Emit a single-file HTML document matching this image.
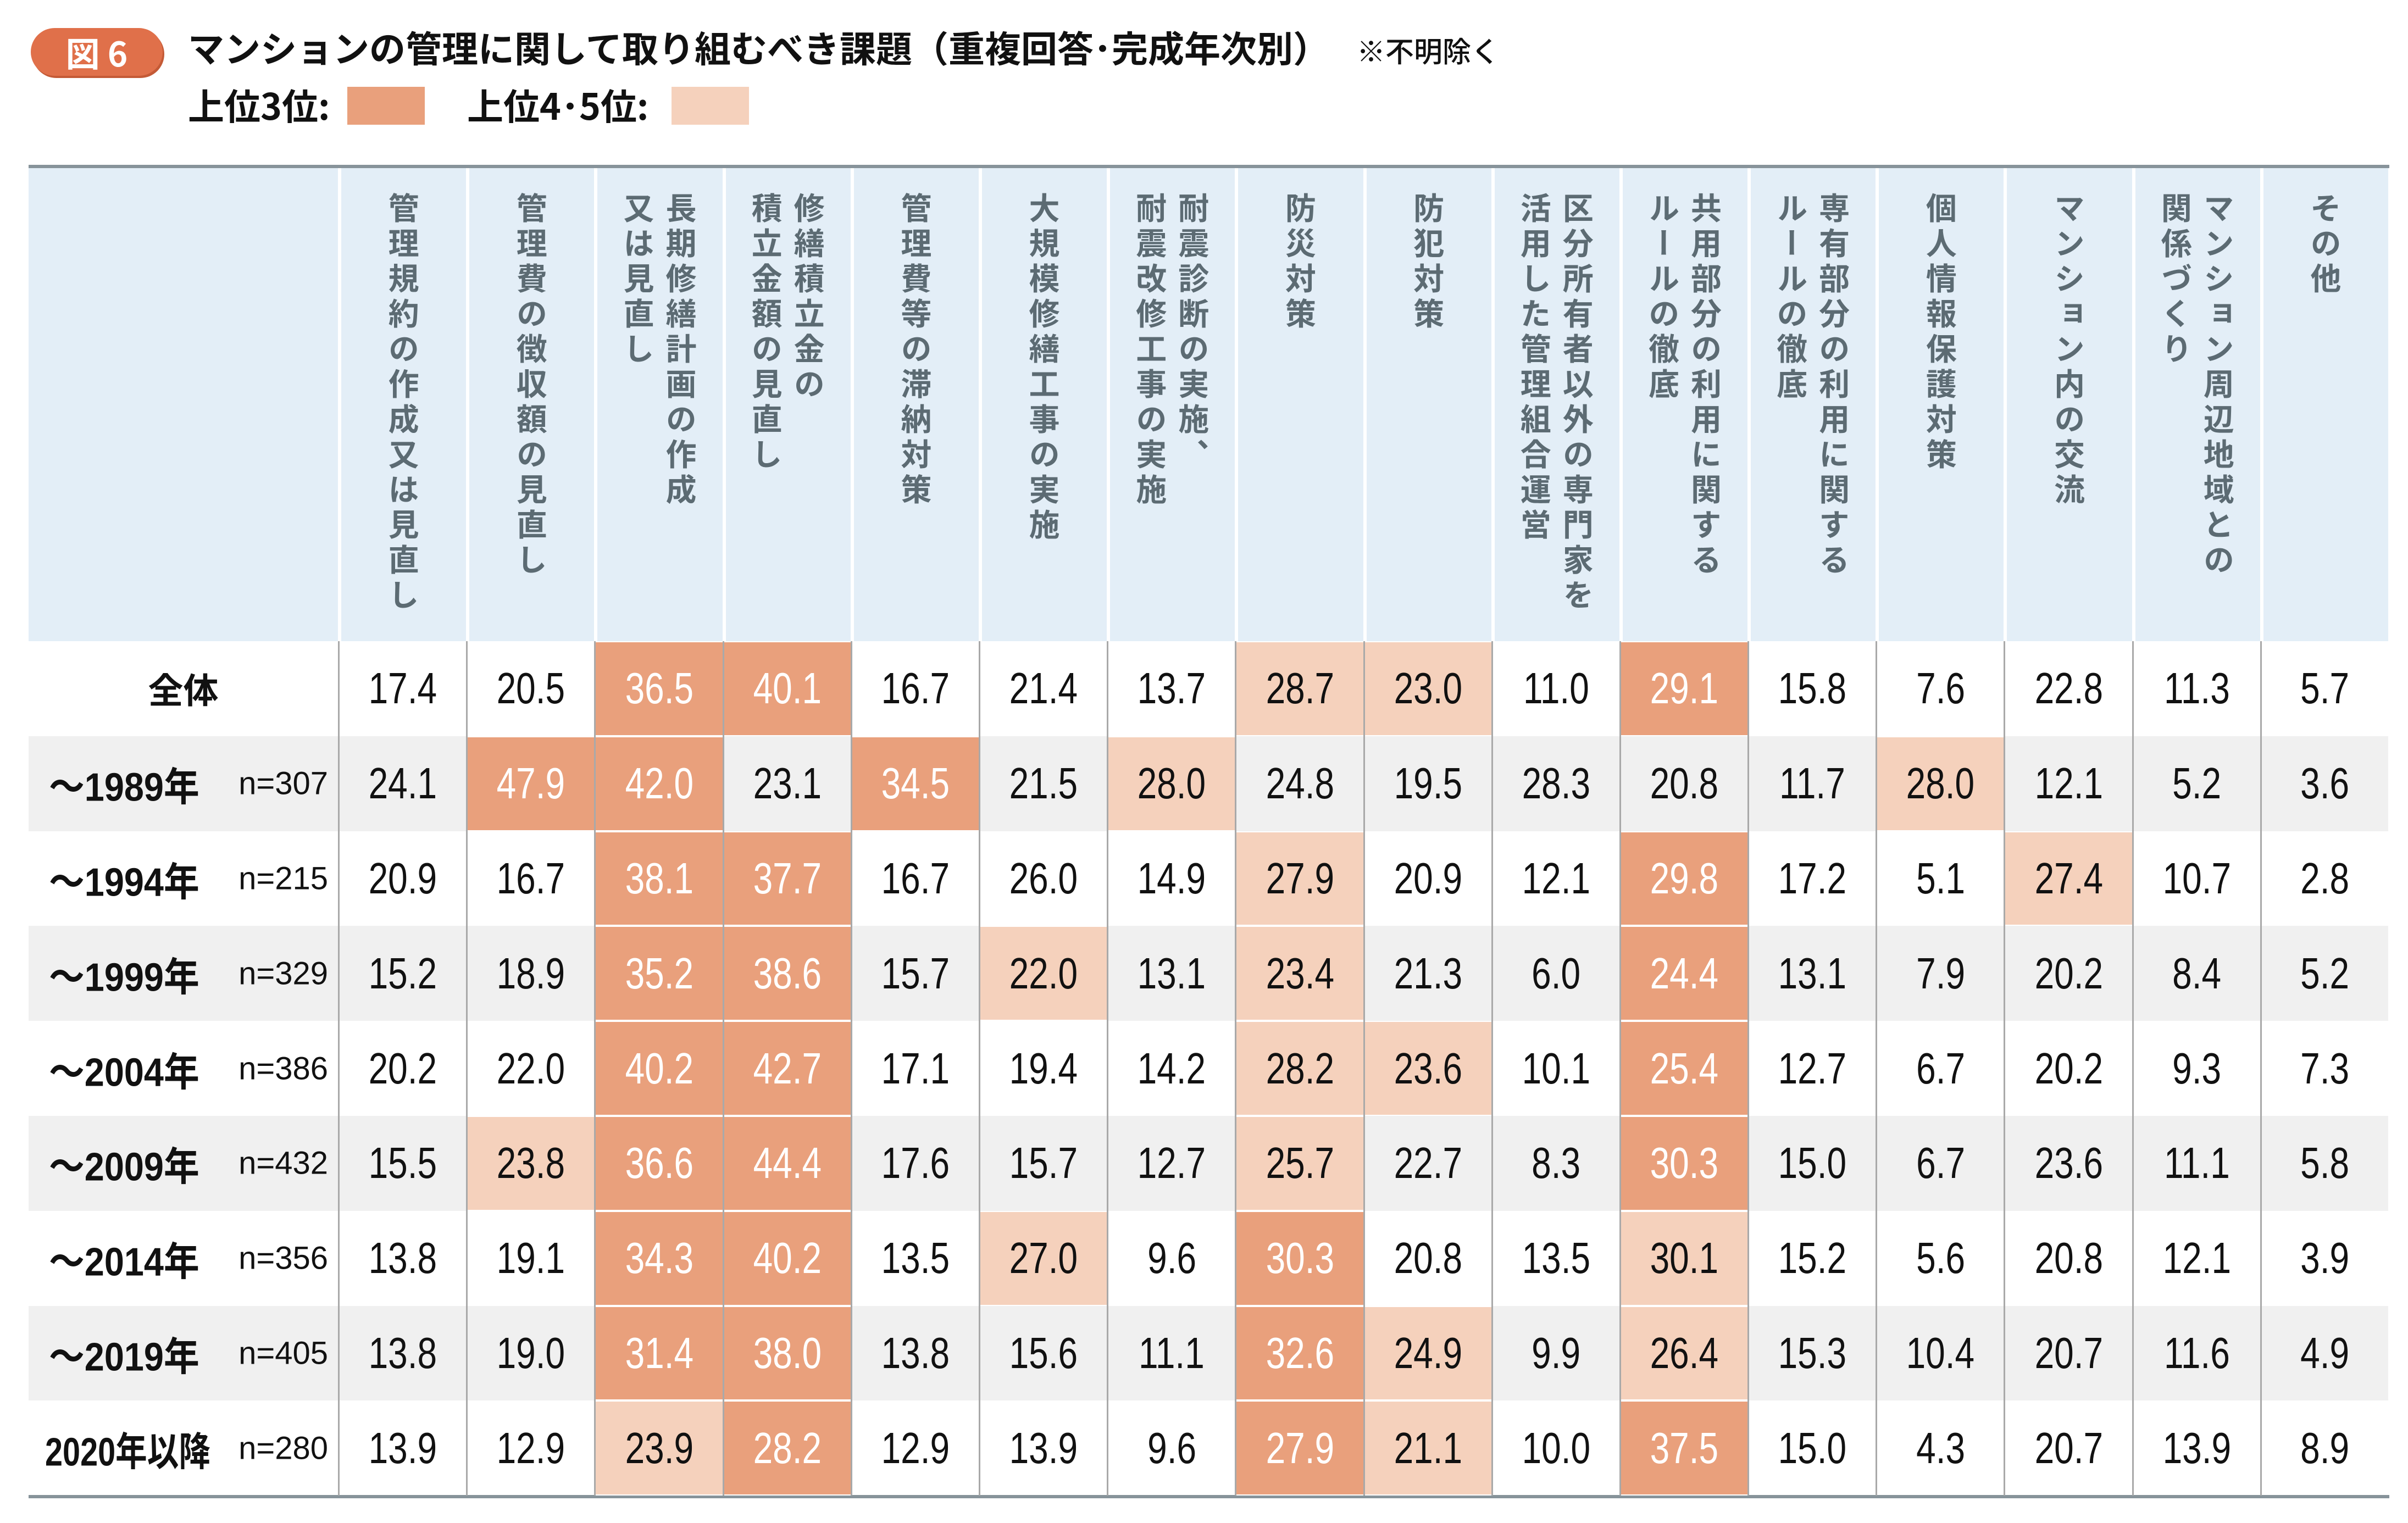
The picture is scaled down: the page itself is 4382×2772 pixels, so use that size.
<!DOCTYPE html>
<html><head><meta charset="utf-8"><style>
*{margin:0;padding:0;box-sizing:border-box}
body{width:4382px;height:2772px;background:#fff;position:relative;overflow:hidden;font-family:"Liberation Sans","Noto Sans CJK JP",sans-serif;color:#111}
.badge{position:absolute;left:56px;top:51px;width:240px;height:87px;background:#e0704a;border-radius:44px;box-shadow:3px 4px 0 #c45a36;color:#fff;font-size:62px;font-weight:bold;line-height:87px;text-align:center;font-family:"Noto Sans CJK JP",sans-serif}
.title{position:absolute;left:342px;top:40px;font-size:66px;font-family:"Noto Sans CJK JP",sans-serif;font-weight:bold;white-space:nowrap;line-height:90px}
.title small{font-size:52px;margin-left:50px;font-weight:500}
.leg{position:absolute;top:150px;font-size:66px;font-family:"Noto Sans CJK JP",sans-serif;font-weight:bold;line-height:80px;white-space:nowrap}
.sw{position:absolute;top:158px;width:141px;height:69px}
.rule{position:absolute;left:52px;width:4296px;height:6px;background:#87939a}
.grid{position:absolute;left:52px;top:306px;display:grid;grid-template-columns:563px repeat(16,233.19px);grid-template-rows:861px repeat(9,172.8px)}
.h{background:#e3eef7;border-left:6px solid #fff;display:flex;justify-content:center;padding-top:44px}
.h0{background:#e3eef7}
.h span{writing-mode:vertical-rl;font-family:"Noto Sans CJK JP",sans-serif;font-weight:bold;font-size:56px;letter-spacing:8px;line-height:77px;color:#5c6b73;white-space:pre}
.c{border-left:3px solid #a9a9a9;display:flex;align-items:center;justify-content:center;font-size:80px}
.c b,.l b{font-weight:normal;display:inline-block;transform:scaleX(.8)}
.g{background:#f0f0f0}
.D{background:#e9a07c;color:#fff;box-shadow:inset 0 2px 0 #fff,inset 0 -2px 0 #fff}
.L{background:#f5d1bc;box-shadow:inset 0 2px 0 #fff,inset 0 -2px 0 #fff}
.l{position:relative;font-family:"Liberation Sans","Noto Sans CJK JP",sans-serif}
.l .y{position:absolute;left:37px;top:50%;transform:translateY(-50%) scaleX(.9);transform-origin:left center;font-weight:bold;font-size:72px;white-space:nowrap}
.l .n{position:absolute;right:18px;top:50%;transform:translateY(-50%);font-size:58px;white-space:nowrap}
.l .z{position:absolute;left:0;right:0;top:50%;transform:translateY(-50%);text-align:center;font-weight:bold;font-size:64px;font-family:"Noto Sans CJK JP",sans-serif}
</style></head><body>
<div class="badge">図 6</div>
<div class="title">マンションの管理に関して取り組むべき課題（重複回答･完成年次別）<small>※不明除く</small></div>
<div class="leg" style="left:342px">上位3位:</div><div class="sw" style="left:632px;background:#e9a07c"></div>
<div class="leg" style="left:850px">上位4･5位:</div><div class="sw" style="left:1222px;background:#f5d1bc"></div>
<div class="rule" style="top:300px"></div>
<div class="rule" style="top:2721px"></div>
<div class="grid">
<div class="h0"></div>
<div class="h"><span>管理規約の作成又は見直し</span></div>
<div class="h"><span>管理費の徴収額の見直し</span></div>
<div class="h"><span>長期修繕計画の作成
又は見直し</span></div>
<div class="h"><span>修繕積立金の
積立金額の見直し</span></div>
<div class="h"><span>管理費等の滞納対策</span></div>
<div class="h"><span>大規模修繕工事の実施</span></div>
<div class="h"><span>耐震診断の実施、
耐震改修工事の実施</span></div>
<div class="h"><span>防災対策</span></div>
<div class="h"><span>防犯対策</span></div>
<div class="h"><span>区分所有者以外の専門家を
活用した管理組合運営</span></div>
<div class="h"><span>共用部分の利用に関する
ルールの徹底</span></div>
<div class="h"><span>専有部分の利用に関する
ルールの徹底</span></div>
<div class="h"><span>個人情報保護対策</span></div>
<div class="h"><span>マンション内の交流</span></div>
<div class="h"><span>マンション周辺地域との
関係づくり</span></div>
<div class="h"><span>その他</span></div>

<div class="l"><span class="z">全体</span></div>
<div class="c"><b>17.4</b></div><div class="c"><b>20.5</b></div><div class="c D"><b>36.5</b></div><div class="c D"><b>40.1</b></div><div class="c"><b>16.7</b></div><div class="c"><b>21.4</b></div><div class="c"><b>13.7</b></div><div class="c L"><b>28.7</b></div><div class="c L"><b>23.0</b></div><div class="c"><b>11.0</b></div><div class="c D"><b>29.1</b></div><div class="c"><b>15.8</b></div><div class="c"><b>7.6</b></div><div class="c"><b>22.8</b></div><div class="c"><b>11.3</b></div><div class="c"><b>5.7</b></div>

<div class="l g"><span class="y">〜1989年</span><span class="n">n=307</span></div>
<div class="c g"><b>24.1</b></div><div class="c D"><b>47.9</b></div><div class="c D"><b>42.0</b></div><div class="c g"><b>23.1</b></div><div class="c D"><b>34.5</b></div><div class="c g"><b>21.5</b></div><div class="c L"><b>28.0</b></div><div class="c g"><b>24.8</b></div><div class="c g"><b>19.5</b></div><div class="c g"><b>28.3</b></div><div class="c g"><b>20.8</b></div><div class="c g"><b>11.7</b></div><div class="c L"><b>28.0</b></div><div class="c g"><b>12.1</b></div><div class="c g"><b>5.2</b></div><div class="c g"><b>3.6</b></div>

<div class="l"><span class="y">〜1994年</span><span class="n">n=215</span></div>
<div class="c"><b>20.9</b></div><div class="c"><b>16.7</b></div><div class="c D"><b>38.1</b></div><div class="c D"><b>37.7</b></div><div class="c"><b>16.7</b></div><div class="c"><b>26.0</b></div><div class="c"><b>14.9</b></div><div class="c L"><b>27.9</b></div><div class="c"><b>20.9</b></div><div class="c"><b>12.1</b></div><div class="c D"><b>29.8</b></div><div class="c"><b>17.2</b></div><div class="c"><b>5.1</b></div><div class="c L"><b>27.4</b></div><div class="c"><b>10.7</b></div><div class="c"><b>2.8</b></div>

<div class="l g"><span class="y">〜1999年</span><span class="n">n=329</span></div>
<div class="c g"><b>15.2</b></div><div class="c g"><b>18.9</b></div><div class="c D"><b>35.2</b></div><div class="c D"><b>38.6</b></div><div class="c g"><b>15.7</b></div><div class="c L"><b>22.0</b></div><div class="c g"><b>13.1</b></div><div class="c L"><b>23.4</b></div><div class="c g"><b>21.3</b></div><div class="c g"><b>6.0</b></div><div class="c D"><b>24.4</b></div><div class="c g"><b>13.1</b></div><div class="c g"><b>7.9</b></div><div class="c g"><b>20.2</b></div><div class="c g"><b>8.4</b></div><div class="c g"><b>5.2</b></div>

<div class="l"><span class="y">〜2004年</span><span class="n">n=386</span></div>
<div class="c"><b>20.2</b></div><div class="c"><b>22.0</b></div><div class="c D"><b>40.2</b></div><div class="c D"><b>42.7</b></div><div class="c"><b>17.1</b></div><div class="c"><b>19.4</b></div><div class="c"><b>14.2</b></div><div class="c L"><b>28.2</b></div><div class="c L"><b>23.6</b></div><div class="c"><b>10.1</b></div><div class="c D"><b>25.4</b></div><div class="c"><b>12.7</b></div><div class="c"><b>6.7</b></div><div class="c"><b>20.2</b></div><div class="c"><b>9.3</b></div><div class="c"><b>7.3</b></div>

<div class="l g"><span class="y">〜2009年</span><span class="n">n=432</span></div>
<div class="c g"><b>15.5</b></div><div class="c L"><b>23.8</b></div><div class="c D"><b>36.6</b></div><div class="c D"><b>44.4</b></div><div class="c g"><b>17.6</b></div><div class="c g"><b>15.7</b></div><div class="c g"><b>12.7</b></div><div class="c L"><b>25.7</b></div><div class="c g"><b>22.7</b></div><div class="c g"><b>8.3</b></div><div class="c D"><b>30.3</b></div><div class="c g"><b>15.0</b></div><div class="c g"><b>6.7</b></div><div class="c g"><b>23.6</b></div><div class="c g"><b>11.1</b></div><div class="c g"><b>5.8</b></div>

<div class="l"><span class="y">〜2014年</span><span class="n">n=356</span></div>
<div class="c"><b>13.8</b></div><div class="c"><b>19.1</b></div><div class="c D"><b>34.3</b></div><div class="c D"><b>40.2</b></div><div class="c"><b>13.5</b></div><div class="c L"><b>27.0</b></div><div class="c"><b>9.6</b></div><div class="c D"><b>30.3</b></div><div class="c"><b>20.8</b></div><div class="c"><b>13.5</b></div><div class="c L"><b>30.1</b></div><div class="c"><b>15.2</b></div><div class="c"><b>5.6</b></div><div class="c"><b>20.8</b></div><div class="c"><b>12.1</b></div><div class="c"><b>3.9</b></div>

<div class="l g"><span class="y">〜2019年</span><span class="n">n=405</span></div>
<div class="c g"><b>13.8</b></div><div class="c g"><b>19.0</b></div><div class="c D"><b>31.4</b></div><div class="c D"><b>38.0</b></div><div class="c g"><b>13.8</b></div><div class="c g"><b>15.6</b></div><div class="c g"><b>11.1</b></div><div class="c D"><b>32.6</b></div><div class="c L"><b>24.9</b></div><div class="c g"><b>9.9</b></div><div class="c L"><b>26.4</b></div><div class="c g"><b>15.3</b></div><div class="c g"><b>10.4</b></div><div class="c g"><b>20.7</b></div><div class="c g"><b>11.6</b></div><div class="c g"><b>4.9</b></div>

<div class="l"><span class="y" style="left:30px;transform:translateY(-50%) scaleX(.8)">2020年以降</span><span class="n">n=280</span></div>
<div class="c"><b>13.9</b></div><div class="c"><b>12.9</b></div><div class="c L"><b>23.9</b></div><div class="c D"><b>28.2</b></div><div class="c"><b>12.9</b></div><div class="c"><b>13.9</b></div><div class="c"><b>9.6</b></div><div class="c D"><b>27.9</b></div><div class="c L"><b>21.1</b></div><div class="c"><b>10.0</b></div><div class="c D"><b>37.5</b></div><div class="c"><b>15.0</b></div><div class="c"><b>4.3</b></div><div class="c"><b>20.7</b></div><div class="c"><b>13.9</b></div><div class="c"><b>8.9</b></div>
</div>
</body></html>
